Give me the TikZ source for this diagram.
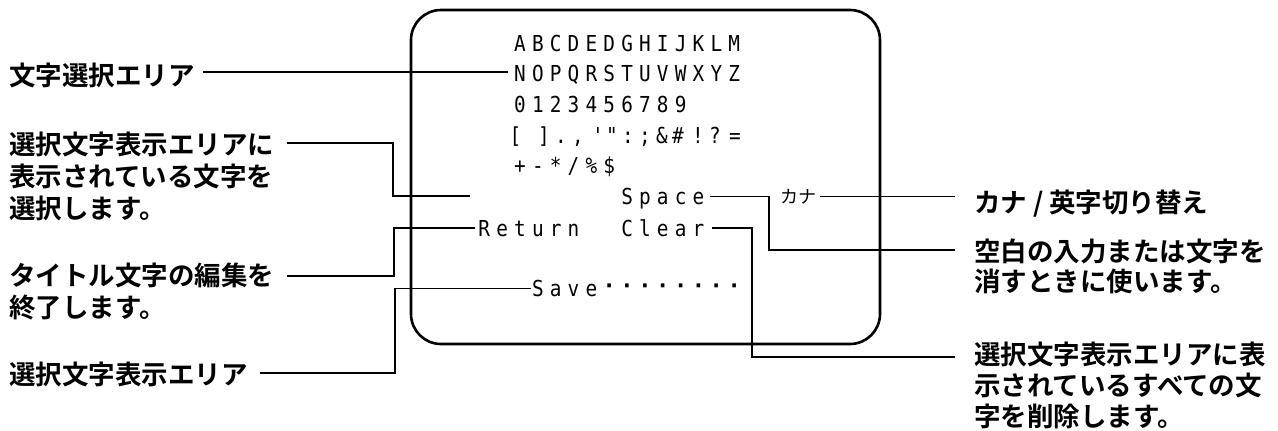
\documentclass[tikz,border=0pt]{standalone}
\usepackage{fontspec}
\newfontfamily\jpb{Noto Sans CJK JP}[UprightFont=* Bold]
\newfontfamily\jpr{Noto Sans CJK JP}
\newfontfamily\gmono{DejaVu Sans Mono}[FakeStretch=0.88]
\newfontfamily\gmonob{DejaVu Sans Mono}[UprightFont=* Bold]
\usetikzlibrary{calc}
\begin{document}
\begin{tikzpicture}[x=1pt,y=-1pt,
  lbl/.style={font=\jpb\fontsize{26.5}{31}\selectfont, inner sep=0pt, anchor=base west},
  kn/.style={font=\jpr\fontsize{18}{20}\selectfont, inner sep=0pt},
  gc/.style={font=\gmono\fontsize{22}{24}\selectfont, inner sep=0pt, text height=16pt, text depth=0pt, anchor=center},
  gd/.style={font=\gmonob\fontsize{22}{24}\selectfont, inner sep=0pt, anchor=center},
  conn/.style={line width=1.4pt},
  frame/.style={line width=2.6pt, rounded corners=30pt}]
\useasboundingbox (0,0) rectangle (1278,431);
\def\px{17.85}
\def\xo{520}
% frame
\draw[frame] (411,10) rectangle (880,344);
% character grid
\foreach \c [count=\i from 0] in {A,B,C,D,E,D,G,H,I,J,K,L,M}
  \node[gc] (ra\i) at ({\xo+\i*\px},43) {\c};
\foreach \c [count=\i from 0] in {N,O,P,Q,R,S,T,U,V,W,X,Y,Z}
  \node[gc] (rb\i) at ({\xo+\i*\px},73.5) {\c};
\foreach \c [count=\i from 0] in {0,1,2,3,4,5,6,7,8,9}
  \node[gc] (rc\i) at ({\xo+\i*\px},104.5) {\c};
\foreach \x/\c [count=\i from 0] in {515.5/[,544/],561/.,578/{,},598/',612/",628/:,645/;,662/\&,678/\#,698/!,715/?,735/=}
  \node[gc] (rd\i) at (\x,135) {\c};
\foreach \c [count=\i from 0] in {+,-,*,/,\%,\$}
  \node[gc] (re\i) at ({\xo+\i*\px},165.5) {\c};
\foreach \c [count=\i from 6] in {S,p,a,c,e}
  \node[gc] (sp\i) at ({\xo+\i*\px},196.5) {\c};
\foreach \c [count=\i from 0] in {R,e,t,u,r,n}
  \node[gc] (rt\i) at ({\xo+(\i-2)*\px},228) {\c};
\foreach \c [count=\i from 6] in {C,l,e,a,r}
  \node[gc] (cl\i) at ({\xo+\i*\px},228) {\c};
\foreach \c [count=\i from 1] in {S,a,v,e}
  \node[gc] (sv\i) at ({\xo+\i*\px},288.5) {\c};
\foreach \i in {5,...,12}
  \node[gd] (dt\i) at ({\xo+\i*\px},288.5) {·};
\node[kn] (kana) at (798.5,196.5) {カナ};
% left labels
\node[lbl] (t1) at (9,85) {文字選択エリア};
\node[lbl] (t2a) at (9,154) {選択文字表示エリアに};
\node[lbl] (t2b) at (9,186) {表示されている文字を};
\node[lbl] (t2c) at (9,218) {選択します。};
\node[lbl] (t3a) at (9,285) {タイトル文字の編集を};
\node[lbl] (t3b) at (9,317) {終了します。};
\node[lbl] (t4) at (9,384) {選択文字表示エリア};
% right labels
\node[lbl] (t6) at (974,212) {カナ / 英字切り替え};
\node[lbl] (t5a) at (974,261) {空白の入力または文字を};
\node[lbl] (t5b) at (974,291) {消すときに使います。};
\node[lbl] (t7a) at (974,364) {選択文字表示エリアに表};
\node[lbl] (t7b) at (974,395) {示されているすべての文};
\node[lbl] (t7c) at (974,426) {字を削除します。};
% helper coordinates
\coordinate (h1) at (0,72);
\coordinate (h2) at (393,143);
\coordinate (e2) at (470,196);
\coordinate (h3) at (394,276);
\coordinate (h4) at (395,373);
\coordinate (h5) at (769,250);
\coordinate (h7) at (752,357);
% connectors
\draw[conn] ($(t1.east|-h1)+(8.5,0)$) -- ($(rb0.west|-h1)+(-6,0)$);
\draw[conn] ($(t2a.east|-h2)+(13,0)$) -| (h2|-e2) -- (e2);
\draw[conn] ($(t3a.east|-h3)+(13,0)$) -| (h3|-rt0.west) -- ($(rt0.west)+(-3,0)$);
\draw[conn] ($(t4.east|-h4)+(12.5,0)$) -| (h4|-sv1.west) -- ($(sv1.west)+(-0.5,0)$);
\draw[conn] ($(sp10.east)+(5,0)$) -| (h5) -- ($(t5a.west|-h5)+(-19,0)$);
\draw[conn] ($(kana.east)+(3,0)$) -- ($(t6.west|-kana.east)+(-19,0)$);
\draw[conn] ($(cl10.east)+(7,0)$) -| (h7) -- ($(t7a.west|-h7)+(-19,0)$);
\end{tikzpicture}
\end{document}
